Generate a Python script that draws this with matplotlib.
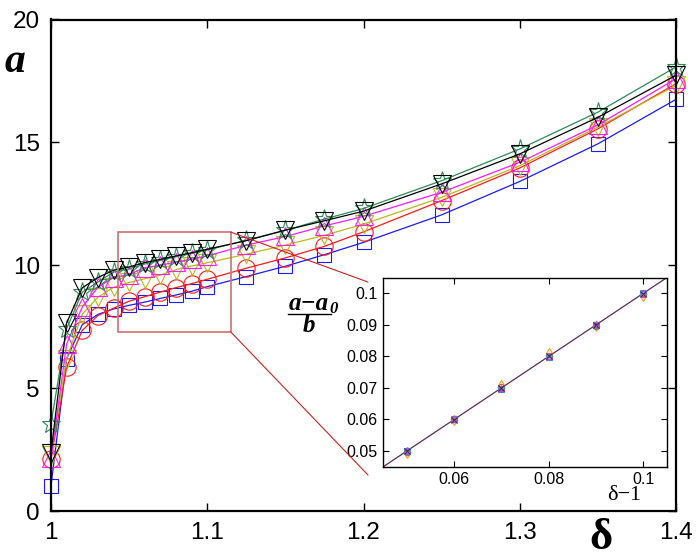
import matplotlib
matplotlib.use("Agg")
import matplotlib.pyplot as plt
from matplotlib.patches import Rectangle, ConnectionPatch
from matplotlib.lines import Line2D

# ---------------- data ----------------
delta = [1.0, 1.01, 1.02, 1.03, 1.04, 1.05, 1.06, 1.07, 1.08, 1.09, 1.10,
         1.125, 1.15, 1.175, 1.2, 1.25, 1.3, 1.35, 1.4]

a_blue = [1.03, 6.2, 7.58, 8.0, 8.22, 8.37, 8.5, 8.65, 8.79, 8.94, 9.13,
          9.54, 9.96, 10.43, 10.93, 12.05, 13.41, 14.94, 16.75]
a_red = [2.1, 5.85, 7.35, 7.95, 8.25, 8.54, 8.72, 8.91, 9.09, 9.25, 9.43,
         9.88, 10.3, 10.77, 11.36, 12.63, 13.96, 15.55, 17.39]
a_yellow = [2.29, 6.2, 8.0, 8.7, 9.1, 9.3, 9.45, 9.6, 9.82, 9.97, 10.1,
            10.45, 10.82, 11.22, 11.67, 12.76, 14.05, 15.62, 17.32]
a_magenta = [2.15, 6.8, 8.3, 9.1, 9.5, 9.62, 9.9, 10.0, 10.13, 10.24, 10.38,
             10.82, 11.17, 11.6, 11.99, 12.97, 14.19, 15.71, 17.59]
a_green = [3.55, 7.42, 8.9, 9.32, 9.72, 9.85, 10.05, 10.2, 10.35, 10.48, 10.62,
           11.02, 11.42, 11.88, 12.31, 13.44, 14.73, 16.23, 18.07]
a_black = [2.38, 7.65, 9.08, 9.5, 9.8, 9.93, 10.11, 10.24, 10.38, 10.51, 10.65,
           11.0, 11.43, 11.81, 12.2, 13.31, 14.53, 16.02, 17.73]

x_ticks = [1.0, 1.1, 1.2, 1.3, 1.4]
x_ticklabels = ["1", "1.1", "1.2", "1.3", "1.4"]
y_ticks = [0, 5, 10, 15, 20]

# inset data
d_minus1 = [0.05, 0.06, 0.07, 0.08, 0.09, 0.10]
ins_orange = [0.0492, 0.0598, 0.0710, 0.0810, 0.0897, 0.0992]
ins_magenta = [0.0504, 0.0600, 0.0700, 0.0800, 0.0904, 0.1000]
ins_blue = [0.0500, 0.0600, 0.0698, 0.0797, 0.0900, 0.1003]
ins_black = [0.0499, 0.0599, 0.0700, 0.0801, 0.0900, 0.0999]
ins_red = [0.0497, 0.0601, 0.0703, 0.0803, 0.0896, 0.0997]
ins_line = [0.045, 0.105]
ins_ticks_x = [0.06, 0.08, 0.1]
ins_ticklabels_x = ["0.06", "0.08", "0.1"]
ins_ticks_y = [0.05, 0.06, 0.07, 0.08, 0.09, 0.1]
ins_ticklabels_y = ["0.05", "0.06", "0.07", "0.08", "0.09", "0.1"]

# ---------------- figure ----------------
plt.rcParams['font.family'] = ['Liberation Sans', 'DejaVu Sans']
W, H = 700, 557
fig = plt.figure(figsize=(7.0, 5.57), dpi=100)

def fx(px):
    return px / W

def fy(py):
    return 1 - py / H

ax = fig.add_axes([fx(51), fy(511), fx(676) - fx(51), fy(19.5) - fy(511)])

lw = 0.9
mew = 0.8
styles = [
    (a_blue, '#1a1aff', 's', 10),
    (a_red, '#ff1a1a', 'o', 12.5),
    (a_yellow, '#bdb51a', 'v', 13),
    (a_magenta, '#ff1aff', '^', 13),
    (a_green, '#2e8b57', '*', 14),
    (a_black, '#000000', 'v', 13),
]
for vals, col, mk, ms in styles:
    ax.plot(delta, vals, color=col, lw=lw, marker=mk, ms=ms, mfc='none',
            mew=mew, clip_on=False, zorder=3)

ax.set_xlim(1.0, 1.4)
ax.set_ylim(0, 20)
ax.set_xticks(x_ticks)
ax.set_xticklabels(x_ticklabels)
ax.set_yticks(y_ticks)
ax.tick_params(direction='in', length=6, width=1, labelsize=17.5,
               top=True, right=True, pad=8)
for s in ax.spines.values():
    s.set_linewidth(1.6)
    s.set_zorder(4)

# zoom rectangle
rect = Rectangle((1.043, 7.29), 1.115 - 1.043, 11.35 - 7.29, fill=False,
                 edgecolor='#d07070', lw=1.2, zorder=5)
ax.add_patch(rect)

# axis labels
fig.text(fx(15), fy(62), "a", family='Liberation Serif', weight='bold',
         style='italic', fontsize=30, ha='center', va='center')
fig.text(fx(601), fy(538), "δ", family='Liberation Serif', weight='bold',
         fontsize=32, ha='center', va='center')

# inset
axi = fig.add_axes([fx(383.3), fy(466.7), fx(666.7) - fx(383.3), fy(277.7) - fy(466.7)])
axi.plot(ins_line, ins_line, color='#5a2a5a', lw=0.9, zorder=1)
axi.plot(d_minus1, ins_orange, ls='none', marker='d', ms=5, mfc='none', mec='#ff9a1a', mew=0.8)
axi.plot(d_minus1, ins_red, ls='none', marker='o', ms=4.5, mfc='none', mec='#e05050', mew=0.8)
axi.plot(d_minus1, ins_blue, ls='none', marker='s', ms=4, mfc='none', mec='#4a8ac8', mew=0.8)
axi.plot(d_minus1, ins_magenta, ls='none', marker='^', ms=5, mfc='none', mec='#c040ff', mew=0.8)
axi.plot(d_minus1, ins_black, ls='none', marker='x', ms=4, mec='#333333', mew=0.8)
axi.set_xlim(0.045, 0.105)
axi.set_ylim(0.045, 0.105)
axi.set_xticks(ins_ticks_x)
axi.set_xticklabels(ins_ticklabels_x)
axi.set_yticks(ins_ticks_y)
axi.set_yticklabels(ins_ticklabels_y)
axi.tick_params(direction='in', length=4, width=0.8, labelsize=11.5,
                top=True, right=True, pad=4)
for s in axi.spines.values():
    s.set_linewidth(1.0)

fig.text(fx(624), fy(495), "δ−1", family='Liberation Serif', fontsize=16,
         ha='center', va='center')

# inset y label as fraction
fig.text(fx(309), fy(303), "a−a", family='Liberation Serif', weight='bold',
         style='italic', fontsize=18, ha='center', va='center')
fig.text(fx(334), fy(309), "0", family='Liberation Serif', weight='bold',
         style='italic', fontsize=12, ha='center', va='center')
fig.add_artist(Line2D([fx(288), fx(331)], [fy(313.5), fy(313.5)], color='black',
                      lw=1.0, transform=fig.transFigure))
fig.text(fx(309), fy(325), "b", family='Liberation Serif', weight='bold',
         style='italic', fontsize=18, ha='center', va='center')

# connector lines
c1 = ConnectionPatch(xyA=(1.115, 11.35), coordsA=ax.transData,
                     xyB=(-0.054, 0.977), coordsB=axi.transAxes,
                     color='#cc2222', lw=0.8)
c2 = ConnectionPatch(xyA=(1.115, 7.29), coordsA=ax.transData,
                     xyB=(-0.054, -0.044), coordsB=axi.transAxes,
                     color='#cc2222', lw=0.8)
fig.add_artist(c1)
fig.add_artist(c2)

fig.savefig("out.png", dpi=100)
